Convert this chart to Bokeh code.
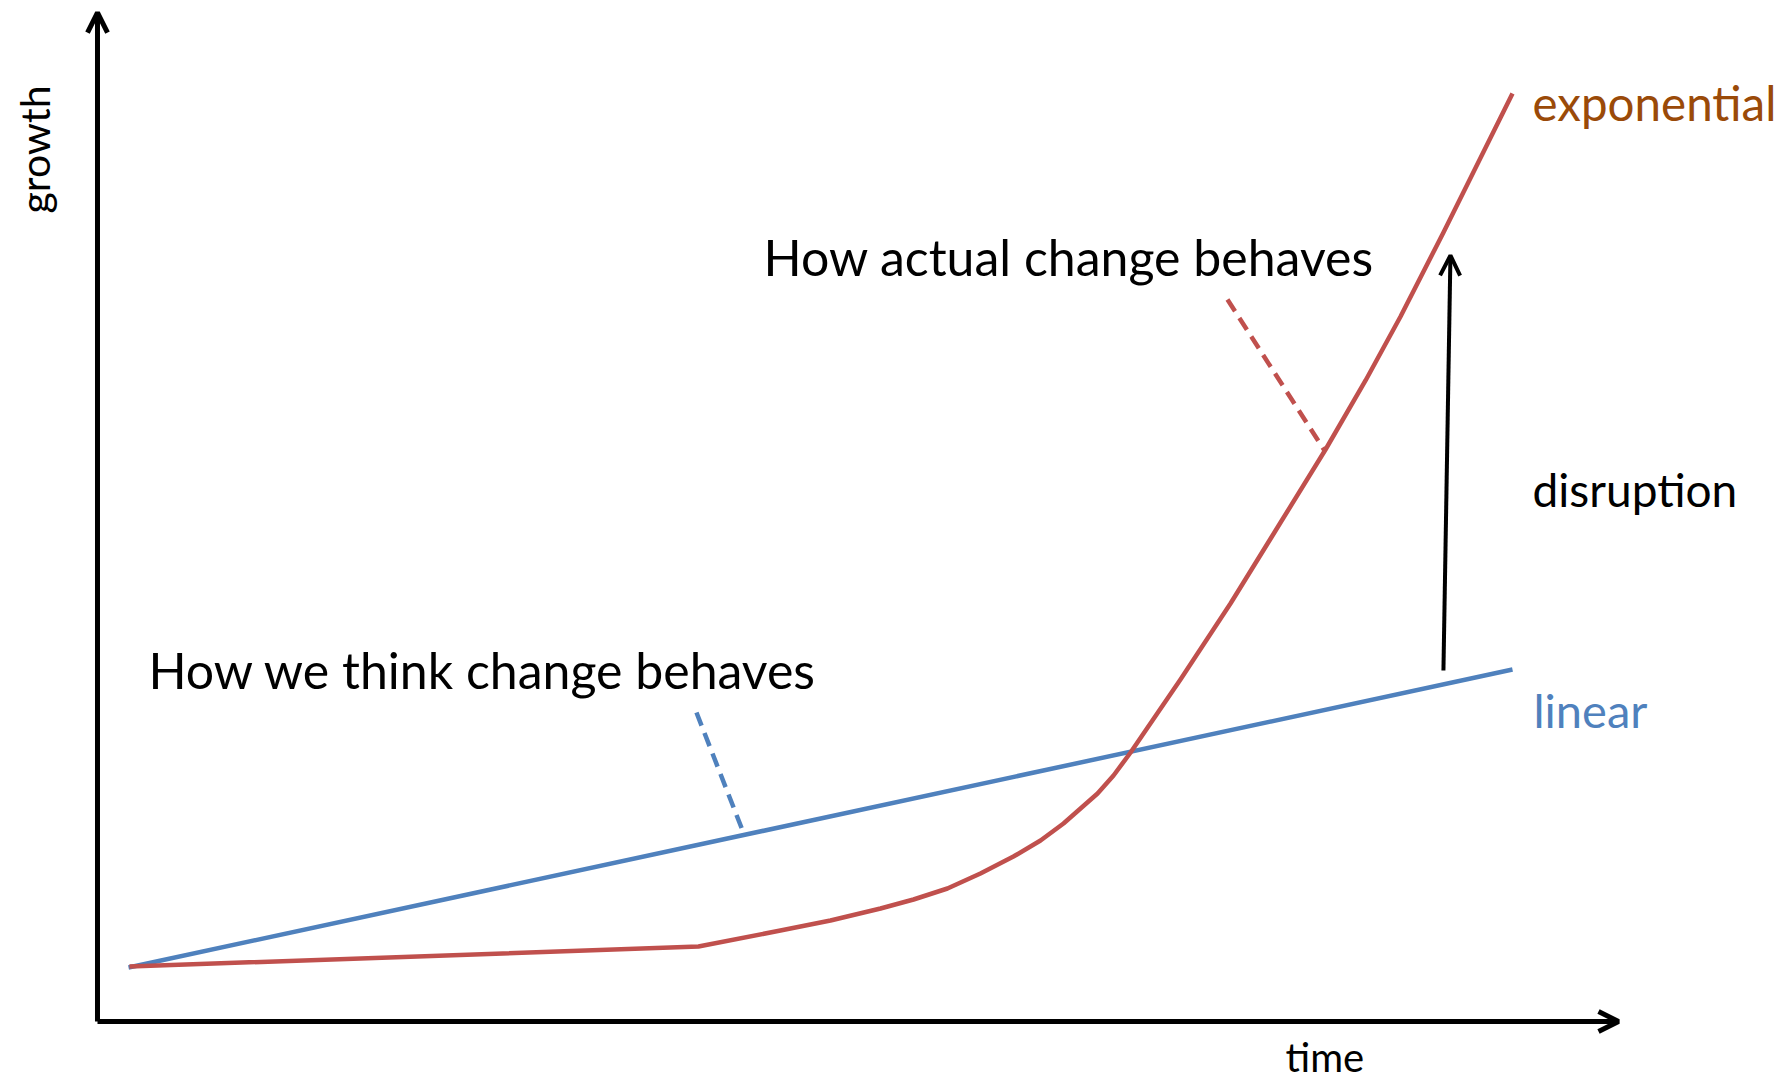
from bokeh.plotting import figure
from bokeh.models import Range1d, Arrow, OpenHead, ColumnDataSource
from bokeh.core.properties import value
from bokeh.embed import file_html
from bokeh.resources import INLINE

# ---- data (abstract units: time 0..100, growth 0..100) ----
linear_time = [2.04, 93.03]
linear_growth = [5.35, 34.89]

exp_time = [2.10, 39.51, 44.90, 48.19, 51.48, 53.65, 55.88, 58.05, 60.22, 62.00,
            63.51, 65.75, 66.80, 67.92, 71.20, 74.49, 77.78, 80.74, 83.37,
            85.67, 88.49, 93.03]
exp_growth = [5.45, 7.43, 9.02, 10.01, 11.20, 12.09, 13.18, 14.67, 16.35, 17.94,
              19.62, 22.60, 24.38, 26.66, 33.90, 41.43, 49.45, 56.69, 63.53,
              69.87, 78.20, 91.97]

think_pointer_time = [39.38, 42.54]
think_pointer_growth = [30.62, 18.43]
actual_pointer_time = [74.29, 80.67]
actual_pointer_growth = [71.56, 56.59]

disruption_time = [88.49, 88.95]
disruption_growth = [34.79, 75.92]

axis_end = [100, 100]

label_texts = ["How we think change behaves", "How actual change behaves",
               "exponential", "linear", "disruption", "time"]
label_time = [3.35, 43.79, 94.35, 94.41, 94.35, 78.11]
label_growth = [34.83, 75.77, 91.13, 30.86, 52.72, -3.55]
label_colors = ["#000000", "#000000", "#9A4A08", "#4F81BD", "#000000", "#000000"]
label_sizes = ["50px", "50px", "47.5px", "47px", "46px", "40px"]

ylabel_text = ["growth"]
ylabel_time = [-4.14]
ylabel_growth = [80.08]

RED = "#C0504D"
BLUE = "#4F81BD"
FONT = "Lato"

p = figure(width=1780, height=1084, output_backend="svg", toolbar_location=None,
           x_range=Range1d(-6.377, 110.65), y_range=Range1d(-6.244, 101.19),
           min_border=0, outline_line_color=None, background_fill_color="white",
           border_fill_color="white")
p.axis.visible = False
p.grid.visible = False

# axes as arrows
p.add_layout(Arrow(x_start=0, y_start=0, x_end=0, y_end=axis_end[1],
                   line_width=5, line_color="black",
                   end=OpenHead(size=20, line_width=5, line_color="black")))
p.add_layout(Arrow(x_start=0, y_start=0, x_end=axis_end[0], y_end=0,
                   line_width=5, line_color="black",
                   end=OpenHead(size=20, line_width=5, line_color="black")))

# series
p.line(linear_time, linear_growth, line_color=BLUE, line_width=4.5)
p.line(exp_time, exp_growth, line_color=RED, line_width=4.5, line_join="round")

# pointers
p.line(think_pointer_time, think_pointer_growth, line_color=BLUE, line_width=4.5,
       line_dash="14 8")
p.line(actual_pointer_time, actual_pointer_growth, line_color=RED, line_width=4.5,
       line_dash="14 8")

# disruption arrow
p.add_layout(Arrow(x_start=disruption_time[0], y_start=disruption_growth[0],
                   x_end=disruption_time[1], y_end=disruption_growth[1],
                   line_width=4, line_color="black",
                   end=OpenHead(size=20, line_width=4, line_color="black")))

src = ColumnDataSource(dict(x=label_time, y=label_growth, text=label_texts,
                            color=label_colors, size=label_sizes))
p.text(x="x", y="y", text="text", source=src, text_color="color",
       text_font_size="size", text_font=value(FONT),
       text_align="left", text_baseline="alphabetic")

p.text(x=ylabel_time, y=ylabel_growth, text=ylabel_text, angle=1.5708,
       text_color="black", text_font_size="41px", text_font=value(FONT),
       text_align="left", text_baseline="alphabetic")

open("out.html", "w").write(file_html(p, INLINE))
